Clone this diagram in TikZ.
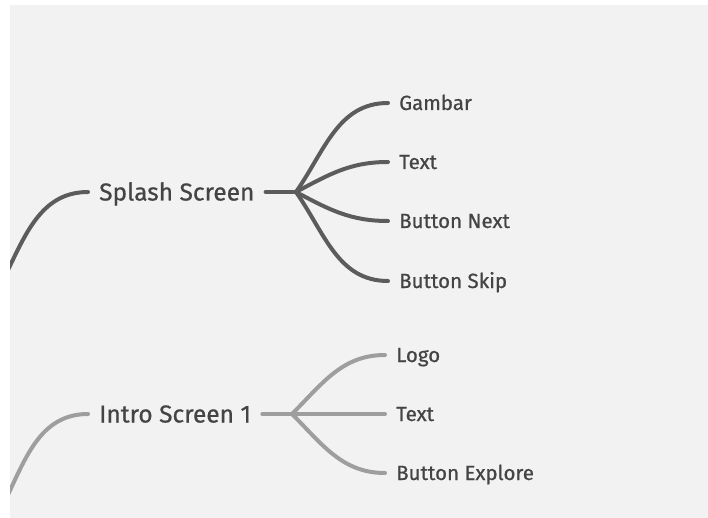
\documentclass[tikz,border=0pt]{standalone}
\usepackage{fontspec}
\setmainfont{Fira Sans}[FakeBold=0.7]
\usepackage{xcolor}
\usetikzlibrary{positioning}
\definecolor{bgGray}{HTML}{F2F2F2}
\definecolor{darkLine}{HTML}{5C5C5C}
\definecolor{lightLine}{HTML}{9E9E9E}
\definecolor{labelText}{HTML}{444444}

\begin{document}
\begin{tikzpicture}[x=1pt, y=-1pt,
    branch/.style={line width=4pt, line cap=round},
    topic/.style={font=\fontsize{24.5}{28}\selectfont, text=labelText, anchor=west,
        text height=17pt, text depth=0pt, inner ysep=0pt, inner xsep=11pt},
    leaf/.style={font=\fontsize{20.5}{24}\selectfont, text=labelText, anchor=west,
        text height=14pt, text depth=0pt, inner ysep=0pt, inner xsep=11pt}]
    % Canvas
    \useasboundingbox (0,0) rectangle (708,518);
    \fill [bgGray] (10,5) rectangle (708,518);
    % Topics
    \node [topic] (splash) at (88,192) {Splash Screen};
    \node [topic] (intro) at (88,414) {Intro Screen 1};
    % Leaves of Splash Screen
    \node [leaf] (gambar) at (388,103) {Gambar};
    \node [leaf] (textA) at (388,162) {Text};
    \node [leaf] (next) at (388,221) {Button Next};
    \node [leaf] (skip) at (388,281) {Button Skip};
    % Leaves of Intro Screen 1
    \node [leaf] (logo) at (385,355) {Logo};
    \node [leaf] (textB) at (385,414) {Text};
    \node [leaf] (explore) at (385,473) {Button Explore};
    % Hubs and loose ends
    \coordinate (splashHub) at (296,192);
    \coordinate (introHub) at (292,414);
    \coordinate (splashIn) at (-2,290);
    \coordinate (introIn) at (-2,515);
    % Lines into the topics
    \begin{scope}
        \clip (10,5) rectangle (708,518);
        \draw [branch, darkLine] (splashIn) to[out=62, in=180] (splash.west);
        \draw [branch, lightLine] (introIn) to[out=62, in=180] (intro.west);
    \end{scope}
    % Splash Screen
    \draw [branch, darkLine] (splash.east) -- (splashHub);
    \draw [branch, darkLine] (splashHub) to[out=55, in=180] (gambar.west);
    \draw [branch, darkLine] (splashHub) to[out=28, in=180] (textA.west);
    \draw [branch, darkLine] (splashHub) to[out=-28, in=180] (next.west);
    \draw [branch, darkLine] (splashHub) to[out=-55, in=180] (skip.west);
    % Intro Screen 1
    \draw [branch, lightLine] (intro.east) -- (introHub);
    \draw [branch, lightLine] (introHub) to[out=45, in=180] (logo.west);
    \draw [branch, lightLine] (introHub) -- (textB.west);
    \draw [branch, lightLine] (introHub) to[out=-45, in=180] (explore.west);
\end{tikzpicture}
\end{document}
